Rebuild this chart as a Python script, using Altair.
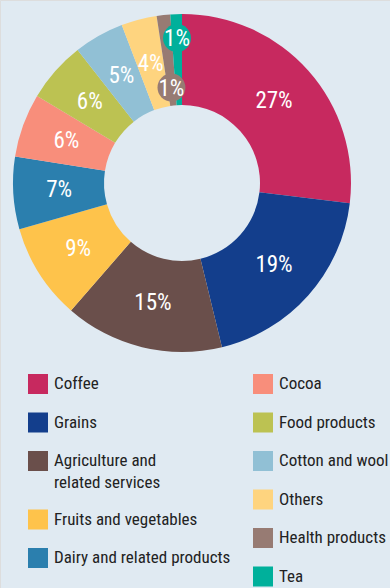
import altair as alt
import pandas as pd

categories = ["Coffee", "Grains", "Agriculture and related services", "Fruits and vegetables",
              "Dairy and related products", "Cocoa", "Food products", "Cotton and wool",
              "Others", "Health products", "Tea"]
shares = [26.9, 19.3, 15.2, 9.2, 6.9, 6.1, 5.8, 4.8, 3.4, 1.3, 1.1]
labels = ["27%", "19%", "15%", "9%", "7%", "6%", "6%", "5%", "4%", "1%", "1%"]
colors = ["#c7295f", "#133e8c", "#6a4f4b", "#fec34b", "#2b7fae", "#f88e7b",
          "#bcc252", "#91c0d5", "#fed47f", "#977b73", "#00b09b"]
bubble_cats = ["Health products", "Tea"]

df = pd.DataFrame({"category": categories, "value": shares, "label": labels,
                   "idx": list(range(len(categories)))})

CX, CY = 182, 183
R_IN, R_OUT, R_LAB = 78, 169, 123
FONT = "Roboto Condensed"

full_color = alt.Color("category:N", scale=alt.Scale(domain=categories, range=colors), legend=None)

base = alt.Chart(df)

arcs = base.mark_arc(innerRadius=R_IN, outerRadius=R_OUT).encode(
    theta=alt.Theta("value:Q", stack=True),
    order=alt.Order("idx:Q"),
    color=full_color,
    x=alt.value(CX), y=alt.value(CY),
)

pos = base.transform_window(
    cum="sum(value)", sort=[alt.SortField("idx", order="ascending")], frame=[None, 0]
).transform_joinaggregate(total="sum(value)").transform_calculate(
    mid="(datum.cum - datum.value/2) / datum.total * 2 * PI"
)

ring_text = pos.transform_filter(
    alt.FieldOneOfPredicate(field="category", oneOf=bubble_cats).__invert__()
).transform_calculate(
    tx=f"{CX} + {R_LAB} * sin(datum.mid)", ty=f"{CY} - {R_LAB} * cos(datum.mid)"
).mark_text(font=FONT, fontSize=23, color="white", baseline="middle", align="center").encode(
    x=alt.X("tx:Q", scale=None, axis=None),
    y=alt.Y("ty:Q", scale=None, axis=None),
    text="label:N",
)

bub = pos.transform_filter(
    alt.FieldOneOfPredicate(field="category", oneOf=bubble_cats)
).transform_calculate(
    r="datum.category == 'Tea' ? 145 : 96"
).transform_calculate(
    bx=f"{CX} + datum.r * sin(datum.mid)", by=f"{CY} - datum.r * cos(datum.mid)"
)

bubbles = bub.mark_circle(size=780, opacity=1).encode(
    x=alt.X("bx:Q", scale=None, axis=None),
    y=alt.Y("by:Q", scale=None, axis=None),
    color=full_color,
)
bubble_text = bub.mark_text(font=FONT, fontSize=23, color="white", baseline="middle", align="center", dy=1).encode(
    x=alt.X("bx:Q", scale=None, axis=None),
    y=alt.Y("by:Q", scale=None, axis=None),
    text="label:N",
)

def legend_layer(cats, cols, lx):
    return alt.Chart(df).transform_filter(
        alt.FieldOneOfPredicate(field="category", oneOf=cats)
    ).mark_square(opacity=0).encode(
        x=alt.value(0), y=alt.value(0),
        color=alt.Color("category:N", scale=alt.Scale(domain=cats, range=cols),
                        legend=alt.Legend(
                            title=None, orient="none", legendX=lx, legendY=374,
                            direction="vertical", padding=0,
                            symbolType="square", symbolSize=400, symbolOpacity=1,
                            symbolStrokeWidth=0, labelFont=FONT, labelFontSize=17,
                            labelColor="#222222", labelOffset=6, rowPadding=18.5,
                            labelLimit=400,
                            labelExpr="datum.label == 'Agriculture and related services' ? ['Agriculture and', 'related services'] : datum.label",
                        )),
    )

leg_left = legend_layer(categories[:5], colors[:5], 28)
leg_right = legend_layer(categories[5:], colors[5:], 253)

chart = alt.layer(arcs, bubbles, bubble_text, ring_text, leg_left, leg_right).resolve_scale(
    color="independent"
).properties(
    width=390, height=588, background="#e0eaf2", padding=0,
    autosize=alt.AutoSizeParams(type="none"),
).configure_view(stroke=None).configure(style={"guide-label": {"lineHeight": 22}})

chart.save("out.html", embed_options={"renderer": "svg", "actions": False})
